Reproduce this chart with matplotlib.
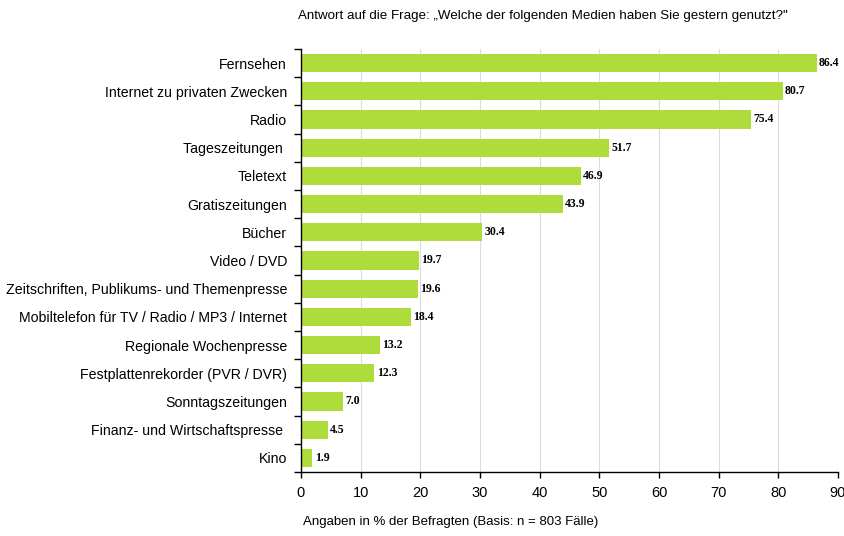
import numpy as np
import matplotlib.pyplot as plt
from matplotlib.ticker import FixedLocator

# data
categories = ["Fernsehen", "Internet zu privaten Zwecken", "Radio", "Tageszeitungen ",
              "Teletext", "Gratiszeitungen", "Bücher", "Video / DVD",
              "Zeitschriften, Publikums- und Themenpresse",
              "Mobiltelefon für TV / Radio / MP3 / Internet",
              "Regionale Wochenpresse", "Festplattenrekorder (PVR / DVR)",
              "Sonntagszeitungen", "Finanz- und Wirtschaftspresse ", "Kino"]
values = [86.4, 80.7, 75.4, 51.7, 46.9, 43.9, 30.4, 19.7, 19.6, 18.4, 13.2, 12.3, 7.0, 4.5, 1.9]
x_ticks = [0, 10, 20, 30, 40, 50, 60, 70, 80, 90]

plt.rcParams['font.family'] = ['Liberation Sans', 'DejaVu Sans']

fig = plt.figure(figsize=(8.44, 5.36), dpi=100)
ax = fig.add_axes([0.3566, 0.1194, 0.6363, 0.7892])

y = np.arange(len(categories))
ax.barh(y, values, height=0.64, color="#addc3b", zorder=2)

for yi, v in zip(y, values):
    ax.text(v + 0.4, yi, f"{v:.1f}", va="center", ha="left", fontsize=8.5,
            fontweight="bold", family="Liberation Serif", zorder=3)

ax.set_xlim(0, 90)
ax.set_ylim(len(categories) - 0.5, -0.5)
ax.set_xticks(x_ticks)
ax.set_xticklabels([str(t) for t in x_ticks], fontsize=10.5)
ax.set_yticks(y)
ax.set_yticklabels(categories, fontsize=10.2)
ax.yaxis.set_minor_locator(FixedLocator(np.arange(-0.5, len(categories), 1)))
ax.tick_params(axis="y", which="major", length=0, pad=10)
ax.tick_params(axis="y", which="minor", length=5, width=1, direction="out")
ax.tick_params(axis="x", length=4, width=1, direction="out", pad=6)

ax.grid(axis="x", color="#dcdcdc", linewidth=0.8, zorder=0)
for s in ["top", "right"]:
    ax.spines[s].set_visible(False)
ax.spines["left"].set_linewidth(1)
ax.spines["bottom"].set_linewidth(1)

fig.text(0.643, 0.970, "Antwort auf die Frage: \u201eWelche der folgenden Medien haben Sie gestern genutzt?\"",
         ha="center", va="center", fontsize=9.6)
fig.text(0.359, 0.026, "Angaben in % der Befragten (Basis: n = 803 Fälle)",
         ha="left", va="center", fontsize=9.5)

fig.savefig("out.png", dpi=100)
